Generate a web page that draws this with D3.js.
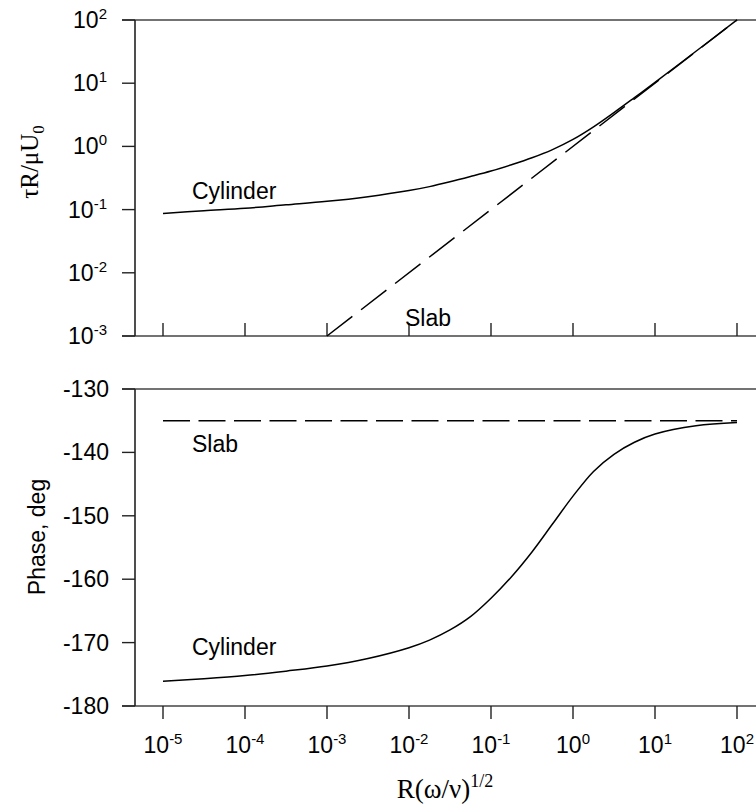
<!DOCTYPE html>
<html>
<head>
<meta charset="utf-8">
<script src="https://cdn.jsdelivr.net/npm/d3@7"></script>
<style>
  html, body { margin: 0; padding: 0; background: #fff; }
  svg { display: block; }
  .sans { font-family: "Liberation Sans", Arial, Helvetica, sans-serif; }
  .serif { font-family: "Liberation Serif", "Times New Roman", serif; }
</style>
</head>
<body>
<svg id="chart" width="756" height="805"></svg>
<script>
// ---- data ----
const xTickExponents = [-5, -4, -3, -2, -1, 0, 1, 2];
const tauTickExponents = [-3, -2, -1, 0, 1, 2];
const phaseTicks = [-130, -140, -150, -160, -170, -180];

const cylX = [1e-5, 3.16e-5, 1e-4, 3.16e-4, 1e-3, 3.16e-3, 1e-2, 1.78e-2, 3.16e-2, 5.62e-2, 0.1, 0.178, 0.316, 0.562, 1, 1.78, 3.16, 5.62, 10, 31.6, 100];
const cylTau = [0.087, 0.096, 0.105, 0.119, 0.135, 0.160, 0.200, 0.231, 0.275, 0.333, 0.407, 0.513, 0.66, 0.89, 1.29, 2.04, 3.43, 5.92, 10.3, 32.0, 100.35];
const cylPhase = [-176.1, -175.7, -175.2, -174.5, -173.7, -172.5, -170.8, -169.6, -168.0, -165.9, -163.0, -159.6, -155.7, -151.3, -146.9, -143.0, -140.3, -138.4, -137.1, -135.8, -135.3];

const slabTauX = [1e-3, 1e2];
const slabTau = [1e-3, 1e2];
const slabPhaseX = [1e-5, 1e2];
const slabPhase = [-135, -135];

// ---- layout ----
const svg = d3.select("#chart");
const axisLeft = 135, axisRightEnd = 756, tickOut = 13;
const ink = "#222";

const x = d3.scaleLog().domain([1e-5, 1e2]).range([163, 737]);
const yTau = d3.scaleLog().domain([1e-3, 1e2]).range([336, 20]);
const yPh = d3.scaleLinear().domain([-180, -130]).range([706, 389]);

function hline(y) {
  svg.append("line").attr("x1", axisLeft - tickOut).attr("x2", axisRightEnd)
    .attr("y1", y).attr("y2", y).attr("stroke", "#444").attr("stroke-width", 1.6);
}
function vline(y1, y2) {
  svg.append("line").attr("x1", axisLeft).attr("x2", axisLeft)
    .attr("y1", y1).attr("y2", y2).attr("stroke", ink).attr("stroke-width", 1.6);
}

// ===== top panel =====
hline(yTau(1e2));
hline(yTau(1e-3));
vline(yTau(1e2), yTau(1e-3));

tauTickExponents.forEach(e => {
  const yy = yTau(Math.pow(10, e));
  svg.append("line").attr("x1", axisLeft - tickOut).attr("x2", axisLeft)
    .attr("y1", yy).attr("y2", yy).attr("stroke", ink).attr("stroke-width", 1.4);
  const t = svg.append("text").attr("class", "sans").attr("x", 107).attr("y", yy + 8)
    .attr("text-anchor", "end").attr("font-size", 23).attr("fill", "#000");
  t.append("tspan").text("10");
  t.append("tspan").attr("dy", -9).attr("font-size", 15).text(String(e));
});
xTickExponents.forEach(e => {
  const xx = x(Math.pow(10, e));
  svg.append("line").attr("x1", xx).attr("x2", xx)
    .attr("y1", yTau(1e-3)).attr("y2", yTau(1e-3) - 13)
    .attr("stroke", ink).attr("stroke-width", 1.4);
});

const lineTau = d3.line().x(d => x(d[0])).y(d => yTau(d[1])).curve(d3.curveCatmullRom.alpha(0.5));
svg.append("path").datum(cylX.map((v, i) => [v, cylTau[i]]))
  .attr("d", lineTau).attr("fill", "none").attr("stroke", "#000").attr("stroke-width", 1.5);
svg.append("path").datum(slabTauX.map((v, i) => [v, slabTau[i]]))
  .attr("d", d3.line().x(d => x(d[0])).y(d => yTau(d[1])))
  .attr("fill", "none").attr("stroke", "#000").attr("stroke-width", 1.5)
  .attr("stroke-dasharray", "32,11");

svg.append("text").attr("class", "sans").attr("x", 192).attr("y", 199)
  .attr("font-size", 23).text("Cylinder");
svg.append("text").attr("class", "sans").attr("x", 405).attr("y", 326)
  .attr("font-size", 23).text("Slab");

const tt = svg.append("text").attr("class", "serif")
  .attr("transform", "translate(38,162) rotate(-90)")
  .attr("text-anchor", "middle").attr("font-size", 25);
tt.append("tspan").text("τR/μU");
tt.append("tspan").attr("dy", 6).attr("font-size", 17).text("0");

// ===== bottom panel =====
hline(yPh(-130));
hline(yPh(-180));
vline(yPh(-130), yPh(-180));

phaseTicks.forEach(p => {
  const yy = yPh(p);
  svg.append("line").attr("x1", axisLeft - tickOut).attr("x2", axisLeft)
    .attr("y1", yy).attr("y2", yy).attr("stroke", ink).attr("stroke-width", 1.4);
  svg.append("text").attr("class", "sans").attr("x", 109).attr("y", yy + 8)
    .attr("text-anchor", "end").attr("font-size", 23).text(String(p));
});

xTickExponents.forEach(e => {
  const xx = x(Math.pow(10, e));
  svg.append("line").attr("x1", xx).attr("x2", xx)
    .attr("y1", yPh(-180)).attr("y2", yPh(-180) + 13)
    .attr("stroke", ink).attr("stroke-width", 1.4);
  const t = svg.append("text").attr("class", "sans").attr("x", xx).attr("y", 753)
    .attr("text-anchor", "middle").attr("font-size", 23);
  t.append("tspan").text("10");
  t.append("tspan").attr("dy", -9).attr("font-size", 15).text(String(e));
});

const linePh = d3.line().x(d => x(d[0])).y(d => yPh(d[1])).curve(d3.curveCatmullRom.alpha(0.5));
svg.append("path").datum(cylX.map((v, i) => [v, cylPhase[i]]))
  .attr("d", linePh).attr("fill", "none").attr("stroke", "#000").attr("stroke-width", 1.5);
svg.append("path").datum(slabPhaseX.map((v, i) => [v, slabPhase[i]]))
  .attr("d", d3.line().x(d => x(d[0])).y(d => yPh(d[1])))
  .attr("fill", "none").attr("stroke", "#000").attr("stroke-width", 1.5)
  .attr("stroke-dasharray", "27,8.5");

svg.append("text").attr("class", "sans").attr("x", 192).attr("y", 452)
  .attr("font-size", 23).text("Slab");
svg.append("text").attr("class", "sans").attr("x", 192).attr("y", 655)
  .attr("font-size", 23).text("Cylinder");

svg.append("text").attr("class", "sans")
  .attr("transform", "translate(45,537) rotate(-90)")
  .attr("text-anchor", "middle").attr("font-size", 23).text("Phase, deg");

const xt = svg.append("text").attr("class", "serif").attr("x", 445).attr("y", 798)
  .attr("text-anchor", "middle").attr("font-size", 27);
xt.append("tspan").text("R(ω/ν)");
xt.append("tspan").attr("dy", -11).attr("font-size", 18).text("1/2");
</script>
</body>
</html>
